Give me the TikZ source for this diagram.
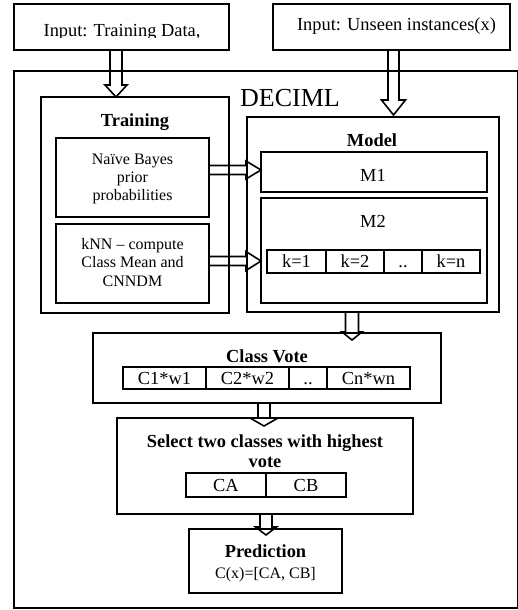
\documentclass[tikz,border=0pt]{standalone}
\usepackage{fontspec}
\setmainfont{Liberation Serif}
\usetikzlibrary{calc}
\tikzset{
  box/.style={draw, line width=1.8pt, inner sep=0pt, outer sep=0pt},
  cell/.style={box, font=\fontsize{18.4}{21}\selectfont, text height=12.5pt, text depth=0pt},
  harrow/.style={draw, line width=1.6pt, line join=miter},
  tx/.style={inner sep=0pt, anchor=base, font=\fontsize{18.4}{21}\selectfont},
  txb/.style={inner sep=0pt, anchor=base, font=\fontsize{18.4}{21}\selectfont\bfseries},
  txs/.style={inner sep=0pt, anchor=base, font=\fontsize{16}{19}\selectfont},
}
\newcommand{\hdown}[5]{%
  \draw[harrow] let \p1=#1, \p2=#2 in
    ({\x1-#3},\y1) -- ({\x1-#3},{\y2+#5}) -- ({\x1-#4},{\y2+#5}) -- (\x1,\y2)
    -- ({\x1+#4},{\y2+#5}) -- ({\x1+#3},{\y2+#5}) -- ({\x1+#3},\y1);}
\newcommand{\hright}[5]{%
  \draw[harrow] let \p1=#1, \p2=#2 in
    (\x1,{\y1+#3}) -- ({\x2-#5},{\y1+#3}) -- ({\x2-#5},{\y1+#4}) -- (\x2,\y1)
    -- ({\x2-#5},{\y1-#4}) -- ({\x2-#5},{\y1-#3}) -- (\x1,{\y1-#3});}
\begin{document}
\begin{tikzpicture}[x=1pt,y=-1pt]
\useasboundingbox (0,0) rectangle (518,610);
% inputs
\node[box, minimum width=215pt, minimum height=46pt] (in1) at (121.5,27) {};
\begin{scope}
  \clip (14,4) rectangle (229,37.6);
  \node[tx] (in1t) at (122,37) {Input: Training Data,};
\end{scope}
\node[box, minimum width=237pt, minimum height=46pt] (in2) at (391.5,27) {};
\node[tx] (in2t) at (396.5,31) {Input: Unseen instances(x)};
% outer
\node[box, minimum width=503.5pt, minimum height=537pt] (outer) at (265.75,339.5) {};
\node[inner sep=0pt, anchor=base west, font=\fontsize{26}{30}\selectfont] (deciml) at (240,106) {DECIML};
% training
\node[box, minimum width=188pt, minimum height=216pt] (train) at (135,205) {};
\node[txb] (traint) at (135,126) {Training};
\node[box, minimum width=153pt, minimum height=79pt] (nb) at (132.5,177.5) {};
\node[txs] (nb1) at (132.5,164) {Naïve Bayes};
\node[txs] (nb2) at (132.5,182) {prior};
\node[txs] (nb3) at (132.5,200) {probabilities};
\node[box, minimum width=153pt, minimum height=79pt] (knn) at (132.5,263.5) {};
\node[txs] (kn1) at (132.5,249) {kNN – compute};
\node[txs] (kn2) at (132.5,267.5) {Class Mean and};
\node[txs] (kn3) at (132.5,286) {CNNDM};
% model
\node[box, minimum width=252pt, minimum height=195pt] (model) at (373,214.5) {};
\node[txb] (modelt) at (372,146) {Model};
\node[box, minimum width=226pt, minimum height=40pt] (m1) at (374,172) {};
\node[tx] (m1t) at (373,181) {M1};
\node[box, minimum width=226pt, minimum height=105pt] (m2) at (374,250.5) {};
\node[tx] (m2t) at (373,227) {M2};
\node[cell, minimum width=59pt, minimum height=23pt] (k1) at (296.5,261.5) {k=1};
\node[cell, minimum width=58pt, minimum height=23pt] (k2) at (355,261.5) {k=2};
\node[cell, minimum width=38pt, minimum height=23pt] (k3) at (403,261.5) {..};
\node[cell, minimum width=58pt, minimum height=23pt] (k4) at (451,261.5) {k=n};
% class vote
\node[box, minimum width=348pt, minimum height=70pt] (cv) at (267,368) {};
\node[txb] (cvt) at (267,362) {Class Vote};
\node[cell, minimum width=83pt, minimum height=22pt] (c1) at (164.5,378) {C1*w1};
\node[cell, minimum width=83pt, minimum height=22pt] (c2) at (247.5,378) {C2*w2};
\node[cell, minimum width=38pt, minimum height=22pt] (c3) at (308,378) {..};
\node[cell, minimum width=83pt, minimum height=22pt] (c4) at (368.5,378) {Cn*wn};
% select
\node[box, minimum width=296pt, minimum height=96pt] (sel) at (265,466) {};
\node[txb] (sel1) at (265,447) {Select two classes with highest};
\node[txb] (sel2) at (265,467) {vote};
\node[cell, minimum width=80pt, minimum height=24pt] (ca) at (226,485) {CA};
\node[cell, minimum width=80pt, minimum height=24pt] (cb) at (306,485) {CB};
% prediction
\node[box, minimum width=153pt, minimum height=64pt] (pred) at (265.5,561) {};
\node[txb] (predt) at (265.5,557) {Prediction};
\node[txs] (predx) at (265.5,578) {C(x)=[CA, CB]};
% hollow arrows
\hdown{([xshift=-5.5pt]in1.south)}{(train.north)}{6pt}{11pt}{12pt}
\hdown{([xshift=2pt]in2.south)}{([yshift=2pt]model.north)}{5.5pt}{12pt}{15pt}
\hright{([yshift=7.5pt]nb.east)}{(m1.west)}{4.5pt}{9pt}{15pt}
\hright{([yshift=2.5pt]knn.east)}{(m2.west)}{4.5pt}{9.5pt}{15pt}
\hdown{([xshift=-21pt]model.south)}{([yshift=-7pt]cv.north)}{6.5pt}{10pt}{8pt}
\hdown{([xshift=-3pt]cv.south)}{([yshift=-8pt]sel.north)}{6pt}{14pt}{8pt}
\hdown{([xshift=1pt]sel.south)}{([yshift=-6pt]pred.north)}{6pt}{10.5pt}{8pt}
\end{tikzpicture}
\end{document}
